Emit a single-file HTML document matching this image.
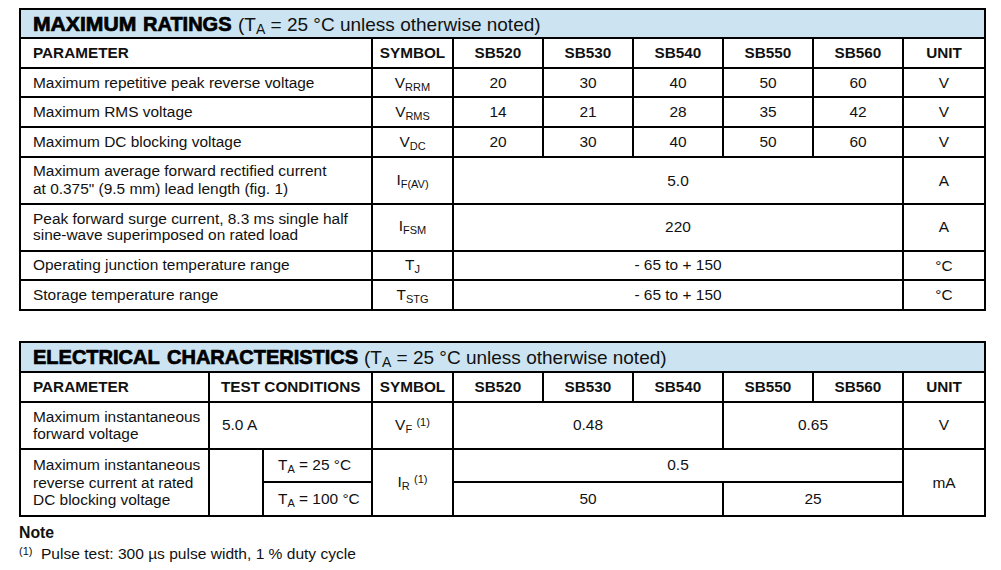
<!DOCTYPE html>
<html><head><meta charset="utf-8"><style>
html,body{margin:0;padding:0;background:#fff;}
body{width:1001px;height:570px;position:relative;overflow:hidden;font-family:"Liberation Sans",sans-serif;color:#111;}
.l{position:absolute;background:#000;}
.bg{position:absolute;background:#cce4f1;}
.t{position:absolute;white-space:nowrap;line-height:30px;}
</style></head><body>
<div class="bg" style="left:19px;top:8px;width:967px;height:29px"></div>
<div class="l" style="left:19px;top:8px;width:967px;height:2px"></div>
<div class="l" style="left:19px;top:309px;width:967px;height:2px"></div>
<div class="l" style="left:19px;top:8px;width:2px;height:303px"></div>
<div class="l" style="left:984px;top:8px;width:2px;height:303px"></div>
<div class="l" style="left:19px;top:37px;width:967px;height:2px"></div>
<div class="l" style="left:19px;top:67px;width:967px;height:2px"></div>
<div class="l" style="left:19px;top:96px;width:967px;height:2px"></div>
<div class="l" style="left:19px;top:126px;width:967px;height:2px"></div>
<div class="l" style="left:19px;top:156px;width:967px;height:2px"></div>
<div class="l" style="left:19px;top:203px;width:967px;height:2px"></div>
<div class="l" style="left:19px;top:250px;width:967px;height:2px"></div>
<div class="l" style="left:19px;top:279px;width:967px;height:2px"></div>
<div class="l" style="left:371px;top:37px;width:2px;height:272px"></div>
<div class="l" style="left:452px;top:37px;width:2px;height:272px"></div>
<div class="l" style="left:542px;top:37px;width:2px;height:119px"></div>
<div class="l" style="left:632px;top:37px;width:2px;height:119px"></div>
<div class="l" style="left:722px;top:37px;width:2px;height:119px"></div>
<div class="l" style="left:812px;top:37px;width:2px;height:119px"></div>
<div class="l" style="left:902px;top:37px;width:2px;height:272px"></div>
<div class="t" style="top:9px;font-size:20px;font-weight:bold;left:33px;-webkit-text-stroke:0.7px #000;color:#000;transform-origin:0 0;transform:scaleX(1.056)">MAXIMUM</div>
<div class="t" style="top:9px;font-size:20px;font-weight:bold;left:143px;-webkit-text-stroke:0.7px #000;color:#000;">RATINGS</div>
<div class="t" style="top:10px;font-size:19px;left:238px;">(T<span style="font-size:14px;position:relative;top:3px">A</span> = 25 °C unless otherwise noted)</div>
<div class="t" style="top:38px;font-size:15.3px;font-weight:bold;left:33px;">PARAMETER</div>
<div class="t" style="top:38px;font-size:15.3px;font-weight:bold;left:262.5px;width:300px;text-align:center;">SYMBOL</div>
<div class="t" style="top:38px;font-size:15.3px;font-weight:bold;left:348.0px;width:300px;text-align:center;">SB520</div>
<div class="t" style="top:38px;font-size:15.3px;font-weight:bold;left:438.0px;width:300px;text-align:center;">SB530</div>
<div class="t" style="top:38px;font-size:15.3px;font-weight:bold;left:528.0px;width:300px;text-align:center;">SB540</div>
<div class="t" style="top:38px;font-size:15.3px;font-weight:bold;left:618.0px;width:300px;text-align:center;">SB550</div>
<div class="t" style="top:38px;font-size:15.3px;font-weight:bold;left:708.0px;width:300px;text-align:center;">SB560</div>
<div class="t" style="top:38px;font-size:15.3px;font-weight:bold;left:794.0px;width:300px;text-align:center;">UNIT</div>
<div class="t" style="top:68px;font-size:15.45px;left:33px;">Maximum repetitive peak reverse voltage</div>
<div class="t" style="top:68px;font-size:15.45px;left:262.5px;width:300px;text-align:center;">V<span style="font-size:11px;position:relative;top:3px">RRM</span></div>
<div class="t" style="top:68px;font-size:15.45px;left:348.0px;width:300px;text-align:center;">20</div>
<div class="t" style="top:68px;font-size:15.45px;left:438.0px;width:300px;text-align:center;">30</div>
<div class="t" style="top:68px;font-size:15.45px;left:528.0px;width:300px;text-align:center;">40</div>
<div class="t" style="top:68px;font-size:15.45px;left:618.0px;width:300px;text-align:center;">50</div>
<div class="t" style="top:68px;font-size:15.45px;left:708.0px;width:300px;text-align:center;">60</div>
<div class="t" style="top:68px;font-size:15.45px;left:794.0px;width:300px;text-align:center;">V</div>
<div class="t" style="top:97px;font-size:15.45px;left:33px;">Maximum RMS voltage</div>
<div class="t" style="top:97px;font-size:15.45px;left:262.5px;width:300px;text-align:center;">V<span style="font-size:11px;position:relative;top:3px">RMS</span></div>
<div class="t" style="top:97px;font-size:15.45px;left:348.0px;width:300px;text-align:center;">14</div>
<div class="t" style="top:97px;font-size:15.45px;left:438.0px;width:300px;text-align:center;">21</div>
<div class="t" style="top:97px;font-size:15.45px;left:528.0px;width:300px;text-align:center;">28</div>
<div class="t" style="top:97px;font-size:15.45px;left:618.0px;width:300px;text-align:center;">35</div>
<div class="t" style="top:97px;font-size:15.45px;left:708.0px;width:300px;text-align:center;">42</div>
<div class="t" style="top:97px;font-size:15.45px;left:794.0px;width:300px;text-align:center;">V</div>
<div class="t" style="top:127px;font-size:15.45px;left:33px;">Maximum DC blocking voltage</div>
<div class="t" style="top:127px;font-size:15.45px;left:262.5px;width:300px;text-align:center;">V<span style="font-size:11px;position:relative;top:3px">DC</span></div>
<div class="t" style="top:127px;font-size:15.45px;left:348.0px;width:300px;text-align:center;">20</div>
<div class="t" style="top:127px;font-size:15.45px;left:438.0px;width:300px;text-align:center;">30</div>
<div class="t" style="top:127px;font-size:15.45px;left:528.0px;width:300px;text-align:center;">40</div>
<div class="t" style="top:127px;font-size:15.45px;left:618.0px;width:300px;text-align:center;">50</div>
<div class="t" style="top:127px;font-size:15.45px;left:708.0px;width:300px;text-align:center;">60</div>
<div class="t" style="top:127px;font-size:15.45px;left:794.0px;width:300px;text-align:center;">V</div>
<div class="t" style="top:156px;font-size:15.45px;left:33px;">Maximum average forward rectified current</div>
<div class="t" style="top:174px;font-size:15.45px;left:33px;">at 0.375" (9.5 mm) lead length (fig. 1)</div>
<div class="t" style="top:165px;font-size:15.45px;left:262.5px;width:300px;text-align:center;">I<span style="font-size:11px;position:relative;top:3px">F(AV)</span></div>
<div class="t" style="top:166px;font-size:15.45px;left:528.0px;width:300px;text-align:center;">5.0</div>
<div class="t" style="top:166px;font-size:15.45px;left:794.0px;width:300px;text-align:center;">A</div>
<div class="t" style="top:204px;font-size:15.45px;left:33px;">Peak forward surge current, 8.3 ms single half</div>
<div class="t" style="top:220px;font-size:15.45px;left:33px;">sine-wave superimposed on rated load</div>
<div class="t" style="top:211px;font-size:15.45px;left:262.5px;width:300px;text-align:center;">I<span style="font-size:11px;position:relative;top:3px">FSM</span></div>
<div class="t" style="top:212px;font-size:15.45px;left:528.0px;width:300px;text-align:center;">220</div>
<div class="t" style="top:212px;font-size:15.45px;left:794.0px;width:300px;text-align:center;">A</div>
<div class="t" style="top:250px;font-size:15.45px;left:33px;">Operating junction temperature range</div>
<div class="t" style="top:250px;font-size:15.45px;left:262.5px;width:300px;text-align:center;">T<span style="font-size:11px;position:relative;top:3px">J</span></div>
<div class="t" style="top:250px;font-size:15.45px;left:528.0px;width:300px;text-align:center;">- 65 to + 150</div>
<div class="t" style="top:251px;font-size:15.45px;left:794.0px;width:300px;text-align:center;">°C</div>
<div class="t" style="top:280px;font-size:15.45px;left:33px;">Storage temperature range</div>
<div class="t" style="top:280px;font-size:15.45px;left:262.5px;width:300px;text-align:center;">T<span style="font-size:11px;position:relative;top:3px">STG</span></div>
<div class="t" style="top:280px;font-size:15.45px;left:528.0px;width:300px;text-align:center;">- 65 to + 150</div>
<div class="t" style="top:280px;font-size:15.45px;left:794.0px;width:300px;text-align:center;">°C</div>
<div class="bg" style="left:19px;top:341px;width:967px;height:30px"></div>
<div class="l" style="left:19px;top:341px;width:967px;height:2px"></div>
<div class="l" style="left:19px;top:515px;width:967px;height:2px"></div>
<div class="l" style="left:19px;top:341px;width:2px;height:176px"></div>
<div class="l" style="left:984px;top:341px;width:2px;height:176px"></div>
<div class="l" style="left:19px;top:371px;width:967px;height:2px"></div>
<div class="l" style="left:19px;top:401px;width:967px;height:2px"></div>
<div class="l" style="left:19px;top:448px;width:967px;height:2px"></div>
<div class="l" style="left:262px;top:481px;width:111px;height:2px"></div>
<div class="l" style="left:452px;top:481px;width:452px;height:2px"></div>
<div class="l" style="left:208px;top:371px;width:2px;height:144px"></div>
<div class="l" style="left:371px;top:371px;width:2px;height:144px"></div>
<div class="l" style="left:452px;top:371px;width:2px;height:144px"></div>
<div class="l" style="left:902px;top:371px;width:2px;height:144px"></div>
<div class="l" style="left:542px;top:371px;width:2px;height:30px"></div>
<div class="l" style="left:632px;top:371px;width:2px;height:30px"></div>
<div class="l" style="left:812px;top:371px;width:2px;height:30px"></div>
<div class="l" style="left:722px;top:371px;width:2px;height:77px"></div>
<div class="l" style="left:722px;top:481px;width:2px;height:34px"></div>
<div class="l" style="left:262px;top:448px;width:2px;height:67px"></div>
<div class="t" style="top:342px;font-size:20px;font-weight:bold;left:33px;-webkit-text-stroke:0.7px #000;color:#000;">ELECTRICAL</div>
<div class="t" style="top:342px;font-size:20px;font-weight:bold;left:167px;-webkit-text-stroke:0.7px #000;color:#000;">CHARACTERISTICS</div>
<div class="t" style="top:343px;font-size:19px;left:364px;">(T<span style="font-size:14px;position:relative;top:3px">A</span> = 25 °C unless otherwise noted)</div>
<div class="t" style="top:372px;font-size:15.3px;font-weight:bold;left:33px;">PARAMETER</div>
<div class="t" style="top:372px;font-size:15.3px;font-weight:bold;left:221px;">TEST CONDITIONS</div>
<div class="t" style="top:372px;font-size:15.3px;font-weight:bold;left:262.5px;width:300px;text-align:center;">SYMBOL</div>
<div class="t" style="top:372px;font-size:15.3px;font-weight:bold;left:348.0px;width:300px;text-align:center;">SB520</div>
<div class="t" style="top:372px;font-size:15.3px;font-weight:bold;left:438.0px;width:300px;text-align:center;">SB530</div>
<div class="t" style="top:372px;font-size:15.3px;font-weight:bold;left:528.0px;width:300px;text-align:center;">SB540</div>
<div class="t" style="top:372px;font-size:15.3px;font-weight:bold;left:618.0px;width:300px;text-align:center;">SB550</div>
<div class="t" style="top:372px;font-size:15.3px;font-weight:bold;left:708.0px;width:300px;text-align:center;">SB560</div>
<div class="t" style="top:372px;font-size:15.3px;font-weight:bold;left:794.0px;width:300px;text-align:center;">UNIT</div>
<div class="t" style="top:402px;font-size:15.45px;left:33px;">Maximum instantaneous</div>
<div class="t" style="top:419px;font-size:15.45px;left:33px;">forward voltage</div>
<div class="t" style="top:410px;font-size:15.45px;left:222px;">5.0 A</div>
<div class="t" style="top:410px;font-size:15.45px;left:262.5px;width:300px;text-align:center;">V<span style="font-size:11px;position:relative;top:3px">F</span> <span style="font-size:11px;position:relative;top:-4px">(1)</span></div>
<div class="t" style="top:410px;font-size:15.45px;left:438.0px;width:300px;text-align:center;">0.48</div>
<div class="t" style="top:410px;font-size:15.45px;left:663.0px;width:300px;text-align:center;">0.65</div>
<div class="t" style="top:410px;font-size:15.45px;left:794.0px;width:300px;text-align:center;">V</div>
<div class="t" style="top:450px;font-size:15.45px;left:33px;">Maximum instantaneous</div>
<div class="t" style="top:468px;font-size:15.45px;left:33px;">reverse current at rated</div>
<div class="t" style="top:485px;font-size:15.45px;left:33px;">DC blocking voltage</div>
<div class="t" style="top:450px;font-size:15.45px;left:278px;">T<span style="font-size:11px;position:relative;top:3px">A</span> = 25 °C</div>
<div class="t" style="top:484px;font-size:15.45px;left:278px;">T<span style="font-size:11px;position:relative;top:3px">A</span> = 100 °C</div>
<div class="t" style="top:467px;font-size:15.45px;left:262.5px;width:300px;text-align:center;">I<span style="font-size:11px;position:relative;top:3px">R</span> <span style="font-size:11px;position:relative;top:-4px">(1)</span></div>
<div class="t" style="top:450px;font-size:15.45px;left:528.0px;width:300px;text-align:center;">0.5</div>
<div class="t" style="top:484px;font-size:15.45px;left:438.0px;width:300px;text-align:center;">50</div>
<div class="t" style="top:484px;font-size:15.45px;left:663.0px;width:300px;text-align:center;">25</div>
<div class="t" style="top:468px;font-size:15.45px;left:794.0px;width:300px;text-align:center;">mA</div>
<div class="t" style="top:518px;font-size:15.8px;font-weight:bold;left:19px;">Note</div>
<div class="t" style="top:536px;font-size:11px;left:19px;">(1)</div>
<div class="t" style="top:539px;font-size:15.55px;left:41px;">Pulse test: 300 µs pulse width, 1 % duty cycle</div>
</body></html>
